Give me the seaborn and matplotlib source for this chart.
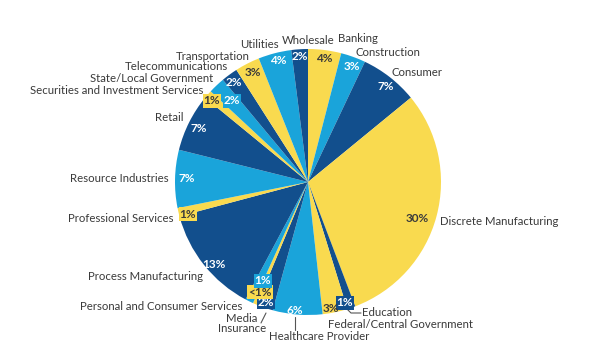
import matplotlib
matplotlib.use("Agg")
import matplotlib.pyplot as plt
import seaborn as sns

# data, clockwise from 12 o'clock
industries = [
    "Banking", "Construction", "Consumer", "Discrete Manufacturing", "Education",
    "Federal/Central Government", "Healthcare Provider", "Insurance", "Media",
    "Personal and Consumer Services", "Process Manufacturing", "Professional Services",
    "Resource Industries", "Retail", "Securities and Investment Services",
    "State/Local Government", "Telecommunications", "Transportation", "Utilities", "Wholesale",
]
shares = [4, 3, 7, 30, 1, 3, 6, 2, 0.5, 1, 13, 1, 7, 7, 1, 2, 2, 3, 4, 2]
pct_labels = ["4%", "3%", "7%", "30%", "1%", "3%", "6%", "2%", "<1%", "1%",
              "13%", "1%", "7%", "7%", "1%", "2%", "2%", "3%", "4%", "2%"]
color_keys = ["Y", "L", "D", "Y", "D", "Y", "L", "D", "Y", "L",
              "D", "Y", "L", "D", "Y", "L", "D", "Y", "L", "D"]

# styling / layout
palette = {"Y": "#F9DA4F", "L": "#1AA4DA", "D": "#124F8D"}
text_on = {"Y": "#3b3b3b", "L": "white", "D": "white"}
boxed = [False, False, False, False, True, False, False, True, True, True,
         False, True, False, False, True, True, False, False, False, False]
W, H = 606, 362
CX, CY, R = 308, 182, 133

# percent label centres (pixels)
pct_pos = [(324, 58), (352, 67), (386, 87), (417, 218), (345, 303), (331, 308),
           (295, 311), (266, 302), (260, 292), (263, 281), (214, 264), (188, 214),
           (187, 179), (199, 128), (212, 101), (232, 101), (234, 82), (253, 72),
           (278, 61), (300, 57)]
# category label anchors (pixels): x, y, horizontal alignment
name_pos = [(338, 38, "left"), (355, 52, "left"), (392, 72, "left"),
            (440, 221, "left"), (362, 313, "left"), (328, 324, "left"),
            (269, 336, "left"), (266, 329, "right"), (257, 318, "right"),
            (242, 307, "right"), (203, 277, "right"), (173, 218, "right"),
            (169, 178, "right"), (183, 118, "right"), (203, 90, "right"),
            (213, 79, "right"), (228, 67, "right"), (250, 56, "right"),
            (279, 44, "right"), (335, 41, "right")]

sns.set_theme(style="white")
plt.rcParams["font.family"] = ["Lato", "DejaVu Sans"]

fig = plt.figure(figsize=(W / 100, H / 100), dpi=100)
ax = fig.add_axes([(CX - R) / W, (H - CY - R) / H, 2 * R / W, 2 * R / H])
ax.pie(shares, colors=[palette[c] for c in color_keys], startangle=90,
       counterclock=False, radius=1, wedgeprops=dict(linewidth=0))
ax.set_xlim(-1, 1)
ax.set_ylim(-1, 1)
ax.set_aspect("equal")
ax.axis("off")


def fx(px):
    return px / W


def fy(py):
    return 1 - py / H


label_color = "#3a3a3a"
for i, name in enumerate(industries):
    px, py = pct_pos[i]
    c = color_keys[i]
    kw = {}
    if boxed[i]:
        kw["bbox"] = dict(boxstyle="square,pad=0.1", fc=palette[c], ec="none")
    fig.text(fx(px), fy(py), pct_labels[i], ha="center", va="center",
             fontsize=8.5, fontweight="bold", color=text_on[c], **kw)
    nx, ny, ha = name_pos[i]
    fig.text(fx(nx), fy(ny), name, ha=ha, va="center", fontsize=8.2, color=label_color)

# leader lines
lines = [[(347, 309), (351, 313), (361, 313)],
         [(295, 317), (295, 330)],
         [(261, 323), (266, 313)]]
for seg in lines:
    xs = [fx(p[0]) for p in seg]
    ys = [fy(p[1]) for p in seg]
    fig.add_artist(plt.Line2D(xs, ys, color="#555555", lw=0.8, transform=fig.transFigure))

fig.savefig("out.png", dpi=100, facecolor="white")
